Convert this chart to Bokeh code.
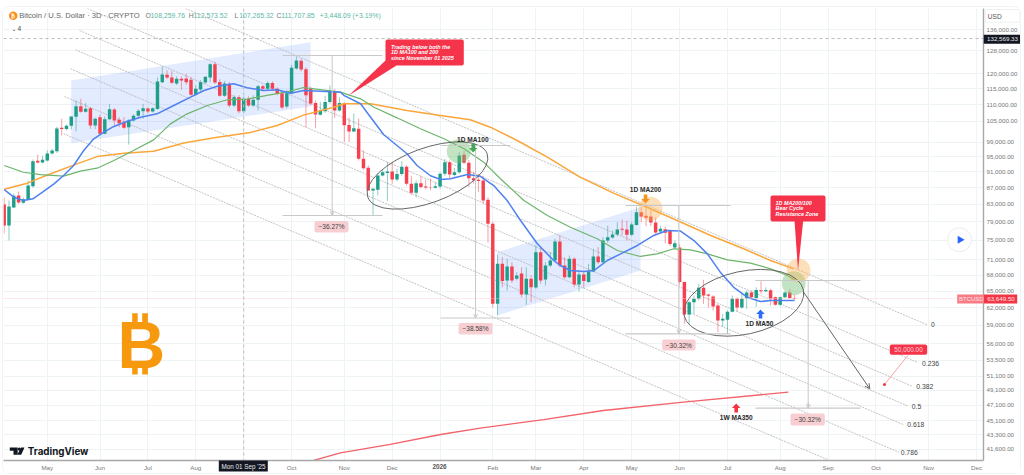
import math
from bokeh.plotting import figure
from bokeh.embed import file_html
from bokeh.resources import INLINE
from bokeh.models import (Range1d, FixedTicker, NumeralTickFormatter, Label, BoxAnnotation,
                          Span, Arrow, OpenHead)

# ---------- data ----------
open_ = [83000,78220,82300,85100,83400,84170,87400,93880,93420,93960,
95830,96450,103050,102670,103650,106300,109520,107800,108900,103700,
106200,101300,105600,108500,105400,104500,103230,105190,106600,107990,
108800,107900,108700,117200,119700,118800,116800,118330,118400,118000,
113100,114800,117100,118800,123300,117300,112800,116660,109740,112300,
107990,111830,109740,111500,115900,115040,116900,115040,113600,109400,
113600,121800,124500,121600,115000,110500,106950,108000,110800,114300,
108200,110300,103850,102000,102800,94400,92050,86330,86500,90100,
90700,91100,89060,90450,92350,88000,85800,88100,87300,87100,
87000,87300,90500,93500,90200,90900,95500,93400,89400,89000,
88800,84100,78600,62700,70200,66960,69670,67300,68300,64380,
67300,65650,72520,67150,69870,70854,74760,69870,67600,71200,
66220,68110,66700,68690,71670,70520,74970,75600,76260,77480,
77330,76200,78340,81200,80400,80250,78880,76900,77400,77200,
73500,73500,66700,60840,63000,63600,65600,64380,64000,62400,
59814,59930,61300,63600,62050,63700,64760,63750,65130,64970,
65130,63880,62530,63880,64760,63750]
high = [84650,83930,85600,86100,84650,88800,94230,95560,95290,96650,
97100,103400,105700,104000,106500,111300,111830,110470,109200,106000,
107000,106400,110270,109000,106200,106200,105600,107100,108600,110270,
109200,109200,118770,122500,121140,120900,119150,119150,120000,119000,
116200,117900,119150,123660,124150,118200,117600,117200,113000,113000,
112500,112600,113000,116300,116400,117500,117500,115500,114200,114700,
123100,126000,125200,122200,115800,111300,110900,112800,116100,115000,
112300,110800,106100,107300,105800,96650,92700,87000,90700,91400,
93500,93500,91800,93800,92700,90000,88800,90000,89000,89300,
88300,90900,94400,94000,92000,96200,96500,94100,91000,90500,
90000,84700,79100,72000,71530,71200,70520,68560,69530,69530,
67920,73930,73580,70520,72540,75340,76050,71530,71870,71530,
68880,68560,70200,73240,73580,75680,78200,77115,78940,79550,
79323,78940,82500,82350,82100,81594,80030,78200,78000,77270,
74970,74130,66590,63170,64190,66350,67100,64500,64250,62690,
60950,61527,64190,63880,64500,65100,65100,65700,66840,65700,
65400,64010,64010,64920,65400,64330]
low = [76460,74970,82200,83200,83200,83930,87050,93190,93190,93690,
95560,96000,100800,102300,102650,102050,107530,107530,102700,102700,
100800,101200,105300,103750,103230,102770,98300,104900,105900,105700,
107380,107600,108400,116900,118300,116600,116300,114720,116400,112800,
112800,114200,116700,117200,116600,112500,112500,109200,109300,107380,
107500,109300,109300,108200,114200,114600,114300,113000,108650,108900,
113400,121500,120800,103230,109700,102900,106700,107500,110300,106000,
107900,99000,99000,101800,93960,91500,86300,80450,85130,89800,
83800,88000,88600,90000,87500,85300,84700,86800,86600,86400,
86800,86800,90000,89300,89800,90500,93000,87200,88000,86000,
83150,74500,62050,60670,65700,65100,66530,66960,63880,62530,
63000,65420,66350,66030,69530,70520,69530,67300,67400,65700,
64920,65700,66530,68560,70200,70400,74490,75330,75890,76050,
74970,75890,78200,78940,78100,78100,76200,76540,74400,73820,
73200,66220,59260,59260,60950,63290,62690,62000,61527,57880,
58810,57620,61230,61400,61830,61830,63600,62160,64500,64800,
62400,62400,62290,63700,63600,63400]
close = [78220,82530,85060,83450,84250,87560,93780,93420,94150,95830,
96650,102850,102670,103650,106390,109520,107800,108730,103700,105700,
101300,105600,108600,105190,104400,103060,105190,106650,108100,108900,
107900,108900,117430,119790,118770,117000,118330,117760,117200,113100,
115040,117200,119000,123300,117100,112800,116760,109740,112300,107990,
111830,109740,111500,115900,115040,116900,115040,113400,109100,113600,
122070,124600,121500,113000,110400,107000,108200,110800,114500,108200,
110500,103800,102000,102900,94400,91950,86330,86750,90100,90900,
91100,89060,90450,92350,88000,85800,88100,87200,87100,87000,
87400,90500,93500,90300,90900,95300,93400,89400,88900,88700,
83930,78600,62700,70200,66860,69670,66960,67920,64380,67300,
65700,72520,66960,69870,70854,74760,69870,67600,71200,66220,
68110,66860,68690,71670,70520,74970,75680,76260,77330,77280,
76200,78430,81200,80250,79950,78880,76690,77480,76650,74220,
74400,66700,60840,63000,63600,65600,64190,64160,62230,59814,
60110,61300,63600,62050,63600,64760,63880,65200,64970,65180,
63600,62530,63880,64760,63750,63649]

ma50_x = [0,2,4,6,8,10.4,12.4,14.5,16.6,18.7,20.8,22.9,25.7,28.5,31.9,35.4,38.9,41.7,44.5,47.9,50.7,54.2,57,59.8,62.5,66,70.2,70.9,74.4,76.5,79.2,82,84.1,86.2,89,91.1,93.2,96.7,99.4,102.2,105,107.8,111.3,114.7,116.1,118.2,121,123.1,125.9,128.7,132.2,135.6,138.4,141.2,144,146.8,149.5,152.3,155.1,157.9,160,165]
ma50_y = [86560,84720,83930,84330,85920,87980,90060,92650,96650,99900,101780,103440,104990,106170,107190,109740,112350,114490,115900,116700,115400,114490,114720,113620,114490,114260,113940,112950,110280,106170,101120,98030,95770,92650,90000,89060,89240,90300,89870,87560,83930,79323,74280,70854,69870,68880,68690,68880,70854,72200,73930,76050,77115,77000,74969,72200,68560,65700,63880,63110,63290,63290]
ma100_x = [0,4,7.6,12.4,15.9,19.4,22.9,27,31.2,34.7,38.2,42.4,46.6,50.7,54.9,59.1,62.5,66,70.2,74.4,77.2,82,86.9,91.8,96,100.1,103.6,108.5,113.4,118.2,123.8,128,132.8,136.3,139.8,143.3,146.8,151,155.8,160,163.5,165.2]
ma100_y = [92650,90900,90300,89900,91170,91950,93960,96650,99600,104200,107190,109740,111530,111720,112950,114030,115450,114790,113950,111830,109210,105990,102760,99900,97120,93520,89240,83930,80450,77840,75340,72880,71670,72200,73240,73030,72200,70990,70320,69210,67920,66960]
ma200_x = [0,4.8,9.7,15.2,19.4,25,31.2,37.5,44.5,51.4,57,62.5,68.8,70.9,76.5,84.1,91.1,97.3,101.5,107.1,113.4,120.3,127.3,134.2,140.5,147.5,154.4,160,164.8]
ma200_y = [86640,88140,90500,93080,95000,95900,96470,98700,100350,101700,103700,106800,109180,110280,110280,108200,106700,105400,103230,99420,94860,89610,85630,82350,79323,76050,73240,70854,69210]
ma350w_x = [64.6,70.2,80.6,91.1,99.4,112.6,125.1,141.8,163.7]
ma350w_y = [40300,41180,42160,43360,44140,45230,46400,47510,48860]

price_ticks = [136000,128000,120000,115000,110000,105000,99000,95000,91000,87000,83000,79000,75000,71000,68000,65000,62000,59000,56000,53500,51100,49100,47100,45100,43300,41600]
time_ticks = [9,20,30,40,50,60,71,81,91,102,111,121,131,141,151,162,172,182,193,203]
time_labels = ["May","Jun","Jul","Aug","","Oct","Nov","Dec","","Feb","Mar","Apr","May","Jun","Jul","Aug","Sep","Oct","Nov","Dec"]
fib_levels = ["0","0.236","0.382","0.5","0.618","0.786"]
last_price = 63649.50
ath_price = 132569.33

# ---------- mapping used for annotations only ----------
def ix(px): return (px - 3.7) / 4.79
def pr(py): return 136000 * math.exp(-(py - 29) / 354.3)

UP, DOWN = "#1f9e89", "#f5414f"
FONT = "Liberation Sans"

p = figure(frame_width=980, frame_height=452, min_border_left=0, min_border_top=1,
           min_border_right=37, min_border_bottom=8, y_axis_type="log", y_axis_location="right",
           x_range=Range1d(ix(3), ix(983)), y_range=Range1d(pr(460), pr(8)),
           toolbar_location=None, output_backend="svg", background_fill_color="white",
           border_fill_color="white", outline_line_color=None)
p.styles = {"position": "absolute", "left": "3px", "top": "7px", "box-shadow": "0 0 0 1px #f1f3f6", "border-radius": "6px"}

p.xaxis.ticker = FixedTicker(ticks=time_ticks)
p.xaxis.major_label_overrides = dict(zip(time_ticks, time_labels))
p.yaxis.ticker = FixedTicker(ticks=price_ticks)
p.yaxis.formatter = NumeralTickFormatter(format="0,0.00")
for ax in (p.xaxis, p.yaxis):
    ax.axis_line_color = "#a8a8ac"
    ax.axis_line_width = 1.4
    ax.major_tick_line_color = None
    ax.minor_tick_line_color = None
    ax.major_tick_out = 0
    ax.major_tick_in = 0
    ax.minor_tick_out = 0
    ax.major_label_text_font = FONT
    ax.major_label_text_font_size = "6.2px"
    ax.major_label_text_color = "#777"
p.xaxis.major_label_standoff = 3
p.yaxis.major_label_standoff = 3
p.grid.grid_line_color = "#eef3f6"
p.grid.grid_line_width = 1
p.grid.minor_grid_line_color = None

def shade(pts, color="#2962ff", alpha=0.13):
    p.patch([ix(a) for a, _ in pts], [pr(b) for _, b in pts], fill_color=color, fill_alpha=alpha, line_color=None)

# shaded channels
shade([(70.7, 80), (310, 41.7), (310, 106), (70.7, 142.7)])
shade([(496.7, 251.7), (640, 206.7), (640, 270), (496.7, 315)])

# fib channel lines (start, end in page position)
fib_lines = [((185, 8), (926.7, 324.3)), ((86.7, 8), (916.7, 361.7)), ((79, 30), (911.7, 385.7)),
             ((75, 49.3), (907.7, 405.7)), ((70, 68.3), (903.3, 424.3)), ((64, 96), (898.3, 451.7)),
             ((63.3, 133.3), (826.7, 459))]
for a, b in fib_lines:
    p.line([ix(a[0]), ix(b[0])], [pr(a[1]), pr(b[1])], line_color="#b4b4b4", line_width=0.8, line_dash="2 1")

p.add_layout(Span(location=50, dimension="height", line_color="#b9bcc2", line_width=1, line_dash="3 3"))
p.add_layout(Span(location=ath_price, dimension="width", line_color="#aaa", line_width=0.8, line_dash="3 3"))
p.add_layout(Span(location=last_price, dimension="width", line_color="#fbc4c8", line_width=0.8, line_dash="1 1"))

# candles
idx = list(range(len(close)))
cols = [UP if c >= o else DOWN for o, c in zip(open_, close)]
p.segment(idx, low, idx, high, line_color=cols, line_alpha=0.5, line_width=1)
p.vbar(x=idx, bottom=[min(o, c) for o, c in zip(open_, close)], top=[max(o, c) for o, c in zip(open_, close)],
       width=0.72, fill_color=cols, line_color=None)

# moving averages
p.line(ma350w_x, ma350w_y, line_color="#f4626a", line_width=1.3)
p.line(ma200_x, ma200_y, line_color="#fba63a", line_width=1.5)
p.line(ma100_x, ma100_y, line_color="#6db56b", line_width=1.2)
p.line(ma50_x, ma50_y, line_color="#4f81f0", line_width=1.5)

# highlight circles
for cx, cy, col in [(458.3, 150.7, "#6fbf6f"), (650, 208.3, "#fbb25a"), (793.3, 282.7, "#6fbf6f"), (798, 270, "#fbb25a")]:
    p.scatter([ix(cx)], [pr(cy)], size=24, marker="circle", fill_color=col, fill_alpha=0.42, line_color=None)

# ellipses
for cx, cy, w, h, ang in [(427, 175, 127, 54.6, 0.35), (743.3, 302.3, 122, 63, 0.213)]:
    p.ellipse(x=[ix(cx)], y=[pr(cy)], width=w, height=h, width_units="screen", height_units="screen",
              angle=ang, fill_color=None, line_color="#666", line_width=1)

# measure tools
GREY = "#c9c9cc"
for x0, x1, top, bot, xm in [(282, 382, 55, 215, 331.7), (440, 510, 145, 317.5, 475),
                             (625, 730, 205, 333.3, 678.3), (755, 860, 280, 407.7, 807.7)]:
    p.line([ix(x0), ix(x1)], [pr(top), pr(top)], line_color=GREY, line_width=1.2)
    p.line([ix(x0), ix(x1)], [pr(bot), pr(bot)], line_color=GREY, line_width=1.2)
    p.line([ix(xm), ix(xm)], [pr(top), pr(bot)], line_color=GREY, line_width=1)
    p.add_layout(Arrow(end=OpenHead(size=4, line_color=GREY, line_width=1), x_start=ix(xm), y_start=pr(bot - 6),
                       x_end=ix(xm), y_end=pr(bot), line_color=GREY, line_width=1))

# projection arrows
p.add_layout(Arrow(end=OpenHead(size=5, line_color="#666", line_width=1), x_start=ix(802.7), y_start=pr(291),
                   x_end=ix(869.3), y_end=pr(388.3), line_color="#666", line_width=1))
p.line([ix(907.3), ix(884)], [pr(355), pr(384)], line_color="#f9a0a6", line_width=1)
p.scatter([ix(884)], [pr(384)], size=3, fill_color="#f23645", line_color=None)

def block_arrow(cx, y0, y1, col):
    # y0 = tail, y1 = tip
    s = 1 if y1 > y0 else -1
    neck = y1 - s * 4.5
    pts = [(cx - 1.8, y0), (cx + 1.8, y0), (cx + 1.8, neck), (cx + 4.2, neck), (cx, y1), (cx - 4.2, neck), (cx - 1.8, neck)]
    shade(pts, col, 1)

block_arrow(472.7, 143, 152, "#43a956")
block_arrow(645, 194, 203, "#f7931a")
block_arrow(760, 318, 309, "#2f6bff")
block_arrow(735.7, 412, 403, "#f5323f")

# red callouts
RED = "#f5334b"
shade([(385, 60), (396, 65), (348.3, 95)], RED, 1)
shade([(794, 220), (802.7, 220), (797.5, 270)], RED, 1)

def box(x0, x1, y0, y1, col, alpha=1.0, radius=2):
    p.add_layout(BoxAnnotation(left=ix(x0), right=ix(x1), top=pr(y0), bottom=pr(y1), fill_color=col,
                               fill_alpha=alpha, line_color=None, border_radius=radius))

def lab(px, py, t, size=6.5, color="#222", style="normal", align="left", font=FONT, **kw):
    p.add_layout(Label(x=ix(px), y=pr(py), text=t, text_font_size=f"{size}px", text_color=color,
                       text_font_style=style, text_align=align, text_baseline="middle", text_font=font, **kw))

box(385, 463.3, 39, 65, RED)
for i, t in enumerate(["Trading below both the", "1D MA100 and 200", "since November 01 2025"]):
    lab(390.5, 46 + i * 5.6, t, 5.4, "white", "bold italic")
box(770, 825, 195, 221, RED)
for i, t in enumerate(["1D MA200/100", "Bear Cycle", "Resistance Zone"]):
    lab(775, 202 + i * 5.6, t, 5.4, "white", "bold italic")

# pink percentage tags
for x0, x1, y0, y1, t in [(314, 348, 220.5, 232, "−36.27%"), (458, 492, 322.5, 334, "−38.58%"),
                          (661.7, 695, 339, 350, "−30.32%"), (790, 824.3, 413, 425, "−30.32%")]:
    box(x0, x1, y0, y1, "#f7cfd3")
    lab((x0 + x1) / 2, (y0 + y1) / 2, t, 6.6, "#444", align="center")

box(889.3, 926.7, 344, 354.3, RED)
lab(908, 349.2, "50,000.00", 6.4, "#fbd5d9", align="center")

for cx, cy, t in [(472.3, 139, "1D MA100"), (645, 189.3, "1D MA200"), (759, 322.7, "1D MA50"), (735.7, 416.7, "1W MA350")]:
    lab(cx, cy, t, 6.6, "#2a2a2a", "bold", "center")

for t, px, py in zip(fib_levels, [932.3, 930, 924.3, 916, 915.3, 908.7], [324.3, 362.7, 386.3, 405.7, 424.3, 451.7]):
    lab(px, py, t, 6.8, "#444", align="center")

# bitcoin mark
shade([(131.7, 312.7), (137.2, 312.7), (137.2, 325), (131.7, 325)], "#f7990f", 1)
shade([(141.7, 312.7), (147.4, 312.7), (147.4, 325), (141.7, 325)], "#f7990f", 1)
shade([(131.7, 362), (137.2, 362), (137.2, 374), (131.7, 374)], "#f7990f", 1)
shade([(141.7, 362), (147.4, 362), (147.4, 374), (141.7, 374)], "#f7990f", 1)
lab(117, 344, "B", 66, "#f7990f", "bold")

# TradingView logo
shade([(9.3, 447), (17.2, 447), (17.2, 454.2), (13, 454.2), (13, 450.2), (9.3, 450.2)], "#131722", 1)
shade([(20.5, 447), (24, 447), (20.7, 454.2), (16.8, 454.2)], "#131722", 1)
p.scatter([ix(18.8)], [pr(448.6)], size=3.2, fill_color="#131722", line_color=None)
lab(27.3, 450.5, "TradingView", 9.8, "#131722", "bold", font="Inter")

# play button
p.scatter([ix(959)], [pr(239.3)], size=24, marker="circle", fill_color="white", line_color="#ececf0", line_width=1)
p.scatter([ix(959.5)], [pr(239.3)], size=8, marker="triangle", angle=-math.pi / 2, fill_color="#2962ff", line_color=None)

# header
p.scatter([ix(12.7)], [pr(15.3)], size=8.5, marker="circle", fill_color="#f7931a", line_color=None)
lab(12.7, 15.3, "₿", 5.5, "white", "bold", "center", font="DejaVu Sans")
lab(18.7, 15.3, "Bitcoin / U.S. Dollar · 3D · CRYPTO", 7.6, "#666")
VAL = "#5bb8a6"
for lx, vx, k, v in [(145, 150, "O", "108,259.76"), (188.3, 193, "H", "112,573.52"),
                     (234, 238.7, "L", "107,265.32"), (276, 280.7, "C", "111,707.85")]:
    lab(lx, 15.3, k, 6.9, "#777")
    lab(vx, 15.3, v, 6.9, VAL)
lab(319.3, 15.3, "+3,448.09 (+3.19%)", 6.9, VAL)
box(8.5, 23, 24, 32.3, "white", 1, 1)
lab(11, 28.2, "⌄", 6, "#444", font="DejaVu Sans")
lab(17, 28.2, "4", 6.6, "#444")

# ---------- transparent layer for the tags on the axes, in page pixels ----------
o = figure(width=1017, height=465, min_border=0, x_range=Range1d(3, 1020), y_range=Range1d(472, 7),
           x_axis_type=None, y_axis_type=None, toolbar_location=None, output_backend="svg",
           background_fill_alpha=0, border_fill_alpha=0, outline_line_color=None)
o.grid.visible = False
o.styles = {"position": "absolute", "left": "3px", "top": "7px", "pointer-events": "none"}

def tag(x0, x1, y0, y1, fill, line=None):
    o.quad(left=[x0], right=[x1], top=[y0], bottom=[y1], fill_color=fill, line_color=line, line_width=1)

def olab(px, py, t, size, color, style="normal", align="left"):
    o.add_layout(Label(x=px, y=py, text=t, text_font_size=f"{size}px", text_color=color, text_font_style=style,
                       text_align=align, text_baseline="middle", text_font=FONT))

tag(984.8, 1019.5, 9, 21.7, "white", "#eef0f3")
olab(987.3, 15.7, "USD", 6.6, "#555")
tag(983.3, 1020, 34.3, 43.3, "#131722")
olab(1002, 38.5, "132,569.33", 6.2, "#e8e8ea", align="center")
tag(956.7, 983.5, 294, 303, "#f77c85")
olab(958.5, 298.5, "BTCUSD", 6, "#ffe3e5")
tag(983.5, 1016.7, 294, 303, "#f23645")
olab(1000.5, 298.5, "63,649.50", 6.2, "#ffe3e5", align="center")
tag(218.3, 267.3, 460, 471, "#131722")
olab(243, 465.7, "Mon 01 Sep '25", 6.3, "#e8e8ea", align="center")
olab(439, 466.3, "2026", 6.4, "#555", "bold", "center")

open("out.html", "w").write(file_html([p, o], INLINE))
